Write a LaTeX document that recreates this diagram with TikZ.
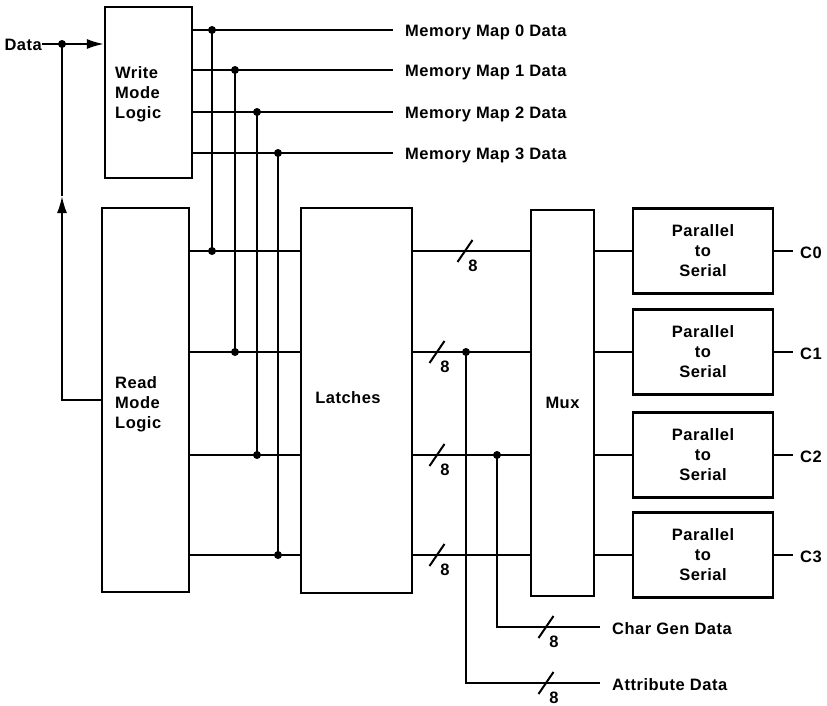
\documentclass[tikz,border=0pt]{standalone}
\usepackage{fontspec}
\setmainfont{Liberation Sans}[LetterSpace=3]
\usetikzlibrary{arrows.meta}

\newcommand\lblfont{\fontsize{16.5}{20}\selectfont\bfseries}

\tikzset{
  blk/.style={draw, line width=2.2pt, inner sep=0pt, font=\lblfont, align=center},
  bus/.style={line width=2pt},
  jn/.style={circle, fill, inner sep=0pt, minimum size=8pt},
  lbl/.style={inner sep=0pt, font=\lblfont},
  arrowhd/.style={-{Latex[length=17pt, width=10pt]}}
}

\begin{document}
\begin{tikzpicture}[x=1pt, y=-1pt]
        \useasboundingbox (0,0) rectangle (827,706);

        % 1. Blocks
        \node[blk, minimum width=87pt, minimum height=171pt] (write) at (148.5,92.5) {};
        \node[blk, minimum width=87pt, minimum height=384pt] (read) at (145.5,400) {};
        \node[blk, minimum width=111pt, minimum height=385pt] (latch) at (356.5,400.5) {};
        \node[blk, minimum width=63pt, minimum height=386pt] (mux) at (562.5,403) {Mux};
        \foreach \i/\y in {0/251, 1/352, 2/455, 3/555}
            \node[blk, minimum width=140pt, minimum height=85pt] (ps\i) at (703,\y) {Parallel\\to\\Serial};

        % 2. Texts inside the blocks
        \node[lbl, align=left, anchor=west] (wtxt) at (115,94) {Write\\Mode\\Logic};
        \node[lbl, align=left, anchor=west] (rtxt) at (115,404) {Read\\Mode\\Logic};
        \node[lbl] (ltxt) at (348,398) {Latches};

        % 3. Data input and loop back from the read logic
        \node[lbl, anchor=base east] (data) at (42,51) {Data};
        \node[jn] (dsplit) at (62,44) {};
        \coordinate (uptip) at (62,196);
        \draw[bus] (data.east |- dsplit) -- (dsplit.center);
        \draw[bus, arrowhd] (dsplit.center) -- (write.west |- dsplit);
        \draw[bus, arrowhd] (read.west) -| (uptip);
        \draw[bus] (uptip) -- (dsplit.center);

        % 4. Memory map lines and taps into the latches
        \foreach \i/\x/\wy/\ry in {0/212/30/251, 1/235/70/352, 2/257/112/455, 3/278/153/555} {
            \node[lbl, anchor=base west] (mm\i) at (405,\wy+7) {Memory Map \i\ Data};
            \coordinate (mmend\i) at (393,\wy);
            \node[jn] (wj\i) at (\x,\wy) {};
            \node[jn] (rj\i) at (\x,\ry) {};
            \draw[bus] (write.east |- wj\i) -- (mmend\i);
            \draw[bus] (wj\i.center) -- (rj\i.center);
            \draw[bus] (read.east |- rj\i) -- (latch.west |- rj\i);
        }

        % 5. Latches -> Mux -> Parallel to Serial -> C0..C3
        \foreach \i/\y in {0/251, 1/352, 2/455, 3/555} {
            \node[lbl, anchor=base west] (c\i) at (800,\y+7) {C\i};
            \coordinate (cend\i) at (793,\y);
            \draw[bus] (latch.east |- ps\i) -- (mux.west |- ps\i);
            \draw[bus] (mux.east |- ps\i) -- (ps\i.west);
            \draw[bus] (ps\i.east) -- (cend\i);
        }

        % 6. Char gen and attribute taps
        \node[jn] (ja) at (466,352) {};
        \node[jn] (jc) at (497,455) {};
        \node[lbl, anchor=base west] (cgd) at (612,634) {Char Gen Data};
        \node[lbl, anchor=base west] (atd) at (612,690) {Attribute Data};
        \coordinate (cgend) at (600,627);
        \coordinate (atend) at (600,683);
        \draw[bus] (jc.center) |- (cgend);
        \draw[bus] (ja.center) |- (atend);

        % 7. Bus width marks
        \foreach \n/\x/\y in {0/465/251, 1/437/352, 2/437/455, 3/437/555, 4/546/627, 5/546/683} {
            \coordinate (bw\n) at (\x,\y);
            \draw[bus] (bw\n) ++(-7.5,11) -- ++(15,-22);
            \node[lbl] (lab\n) at (\x+8,\y+14.5) {8};
        }

\end{tikzpicture}
\end{document}
